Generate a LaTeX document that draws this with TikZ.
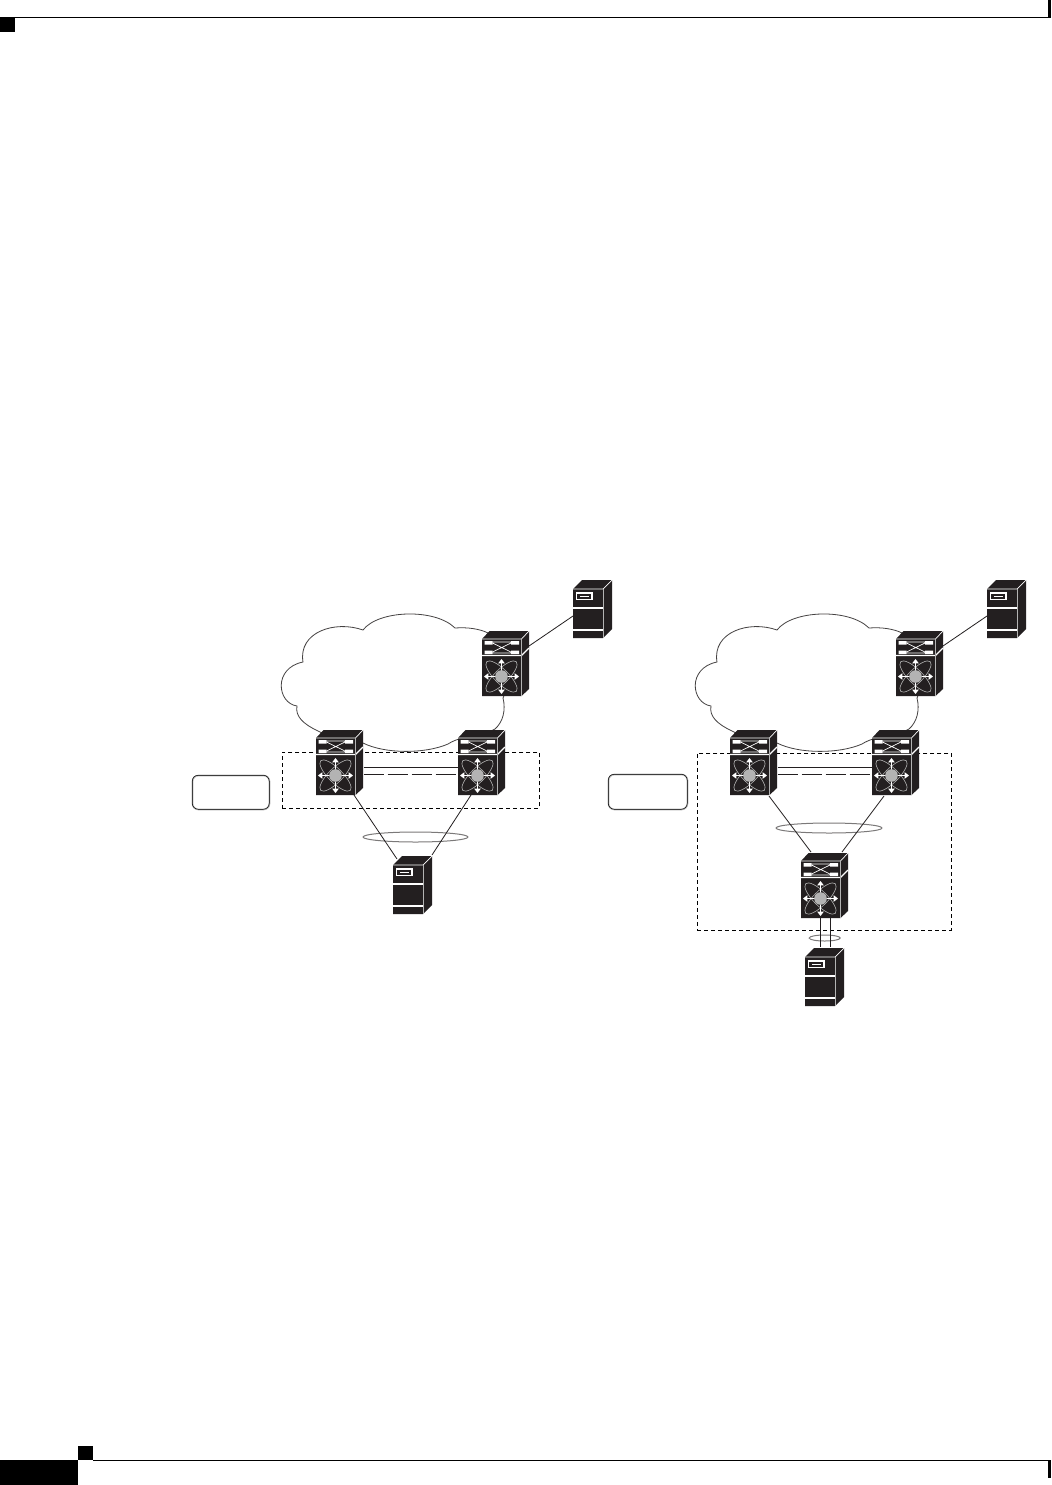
\documentclass[tikz,border=0pt]{standalone}
\usetikzlibrary{calc,arrows.meta}
\definecolor{devblack}{HTML}{231F20}
\definecolor{devgrey}{HTML}{B3B3B3}
\tikzset{
  x=0.5pt,y=-0.5pt,
  anchorbox/.style={inner sep=0pt,outer sep=0pt,minimum width=#1,anchor=north west},
  body/.style={fill=devblack,draw=none},
  whiteline/.style={draw=white,line width=0.6pt},
  thinwhite/.style={draw=white,line width=0.35pt},
  whitearrow/.style={draw=white,line width=0.65pt,{Triangle[length=2.2pt,width=3.2pt]}-{Triangle[length=2.2pt,width=3.2pt]}},
  orbit/.style={draw=devgrey,line width=0.3pt},
  greyedge/.style={draw=devgrey,line width=0.4pt},
  link/.style={draw=devblack,line width=0.4pt},
  linkdash/.style={link,dash pattern=on 10pt off 2pt},
  cloudline/.style={draw=devblack!85,line width=0.4pt},
  bundle/.style={draw=devblack!60,line width=0.5pt},
  region/.style={draw=black,line width=0.35pt,dash pattern=on 2pt off 1.5pt},
  label box/.style={rounded corners=3pt,draw=black,line width=0.25pt},
  label shade/.style={rounded corners=3pt,draw=devgrey,line width=0.8pt},
  pagemark/.style={fill=black,draw=none},
}
\newcommand{\switchdev}[3]{%
  \node[anchorbox=20pt,minimum height=28.5pt] (#1) at (#2,#3) {};
  \begin{scope}[shift={(#2,#3)}]
    \fill[body] (0,0) -- (7.5,-8) -- (47,-8) -- (47,50) -- (39.5,57) -- (0,57) -- cycle;
    \draw[thinwhite] (0,0) -- (39.5,0) -- (47,-8);
    \draw[whiteline] (0,16.5) -- (39.5,16.5) -- (47,9);
    \draw[greyedge] (39.7,0) -- (39.7,57);
    \fill[white] (2.5,2) rectangle (10.5,5.5) (29,2) rectangle (37,5.5)
                 (2.5,11.5) rectangle (10.5,15) (29,11.5) rectangle (37,15);
    \draw[thinwhite] (10.5,3) -- (29,3) (10.5,14) -- (29,14)
                     (10.5,4) -- (29,13) (10.5,13) -- (29,4);
    \begin{scope}[shift={(19.5,37.5)}]
      \begin{scope}[rotate=45]
        \draw[orbit] (0,0) ellipse (21 and 7);
      \end{scope}
      \begin{scope}[rotate=-45]
        \draw[orbit] (0,0) ellipse (21 and 7);
      \end{scope}
      \draw[whitearrow] (-17.5,0) -- (17.5,0);
      \draw[whitearrow] (0,-17.5) -- (0,17.5);
      \fill[devgrey] (0,0) circle (6.3);
    \end{scope}
  \end{scope}
}
\newcommand{\serverdev}[3]{%
  \node[anchorbox=15pt,minimum height=24.5pt] (#1) at (#2,#3) {};
  \begin{scope}[shift={(#2,#3)}]
    \fill[body] (0,0) -- (9,-9) -- (39,-9) -- (39,40) -- (30,49) -- (0,49) -- cycle;
    \draw[thinwhite] (0,0) -- (30,0) -- (39,-9);
    \draw[greyedge] (30.3,0) -- (30.3,49);
    \draw[whiteline] (0,19) -- (30,19) (0,41) -- (30,41);
    \draw[whiteline] (3.5,4) rectangle (19,10.5);
    \draw[thinwhite] (7,7.2) -- (15.5,7.2);
  \end{scope}
}
\newcommand{\clouddev}[1]{%
  \begin{scope}[xshift=#1*0.5pt]
    \draw[cloudline]
      (363,630) .. controls (378,610) and (435,608) .. (455,628)
      .. controls (468,627) and (480,629) .. (488,633)
      .. controls (505,650) and (512,680) .. (503,698)
      .. controls (506,710) and (503,722) .. (495,729)
      .. controls (482,736) and (462,735) .. (448,744)
      .. controls (425,754) and (385,754) .. (363,743)
      .. controls (345,739) and (328,737) .. (318,731)
      .. controls (303,724) and (295,716) .. (297,706)
      .. controls (277,703) and (273,668) .. (303,662)
      .. controls (298,632) and (335,620) .. (363,630) -- cycle;
  \end{scope}
}
\begin{document}
\begin{tikzpicture}
\useasboundingbox (0,0) rectangle (1051,1485);
\fill[white] (0,0) rectangle (1051,1485);
% page furniture
\node[pagemark,anchor=north west,inner sep=0pt,minimum width=7.5pt,minimum height=7.5pt] (markTop) at (0,17) {};
\draw[black,line width=0.5pt] (0,17.5) -- (1049,17.5);
\fill[black] (1048,0) rectangle (1051,18);
\node[pagemark,anchor=north west,inner sep=0pt,minimum width=39pt,minimum height=12.5pt] (markFoot) at (0,1460) {};
\node[pagemark,anchor=north west,inner sep=0pt,minimum width=7.5pt,minimum height=7pt] (markFootB) at (78,1446) {};
\draw[black,line width=0.5pt] (93,1460.5) -- (1049.5,1460.5);
\fill[black] (1048,1460) rectangle (1051,1478);
% clouds
\clouddev{0}
\clouddev{414}
% regions and label boxes
\node[region,anchor=north west,inner sep=0pt,minimum width=128.5pt,minimum height=28pt] (regL) at (282,752) {};
\node[region,anchor=north west,inner sep=0pt,minimum width=127pt,minimum height=88.5pt] (regR) at (697,752.5) {};
\draw[label shade] (192.5,775.5) rectangle (269.5,809.5);
\node[label box,anchor=north west,inner sep=0pt,minimum width=38.5pt,minimum height=17pt] (tagL) at (192,775) {};
\draw[label shade] (608.5,774.5) rectangle (687.5,809.5);
\node[label box,anchor=north west,inner sep=0pt,minimum width=39.5pt,minimum height=17.5pt] (tagR) at (608,774) {};
% devices
\serverdev{srvA}{573}{589}
\serverdev{srvB}{393}{865}
\serverdev{srvC}{987}{589}
\serverdev{srvD}{805}{957}
\switchdev{swA}{482}{639}
\switchdev{swB}{316}{738}
\switchdev{swC}{458}{738}
\switchdev{swD}{896}{639}
\switchdev{swE}{730}{738}
\switchdev{swF}{872}{738}
\switchdev{swG}{801}{861}
% bundles
\draw[bundle] (415.5,837) ellipse (52.5 and 5);
\draw[bundle] (829,828) ellipse (53 and 5);
\draw[bundle] (824.7,938) ellipse (15.5 and 3);
% links, left
\draw[link] ($(swA.north east)+(7,7)$) -- ($(srvA.west)+(0,2.5)$);
\draw[link] ($(swB.south east)+(-2,0)$) -- ($(srvB.north west)+(4,-6)$);
\draw[link] ($(swC.south west)+(13,0)$) -- ($(srvB.north east)+(9,-10)$);
\draw[link] ($(swB.north east)+(7.5,29)$) -- ($(swC.north west)+(0,29)$);
\draw[linkdash] ($(swB.north east)+(7.5,36)$) -- ($(swC.north west)+(0,36)$);
% links, right
\draw[link] ($(swD.north east)+(7,7)$) -- ($(srvC.west)+(0,2.5)$);
\draw[link] ($(swE.south east)+(-1,1)$) -- ($(swG.north west)+(10,-9)$);
\draw[link] ($(swF.south west)+(12,1)$) -- ($(swG.north east)+(1,-9)$);
\draw[link] ($(swE.north east)+(7.5,29)$) -- ($(swF.north west)+(0,29)$);
\draw[linkdash] ($(swE.north east)+(7.5,36)$) -- ($(swF.north west)+(0,36)$);
\draw[link] ($(swG.south west)+(19,0)$) -- ($(srvD.north west)+(15,-10)$);
\draw[link] ($(swG.south west)+(29,0)$) -- ($(srvD.north west)+(25,-10)$);
\end{tikzpicture}
\end{document}
